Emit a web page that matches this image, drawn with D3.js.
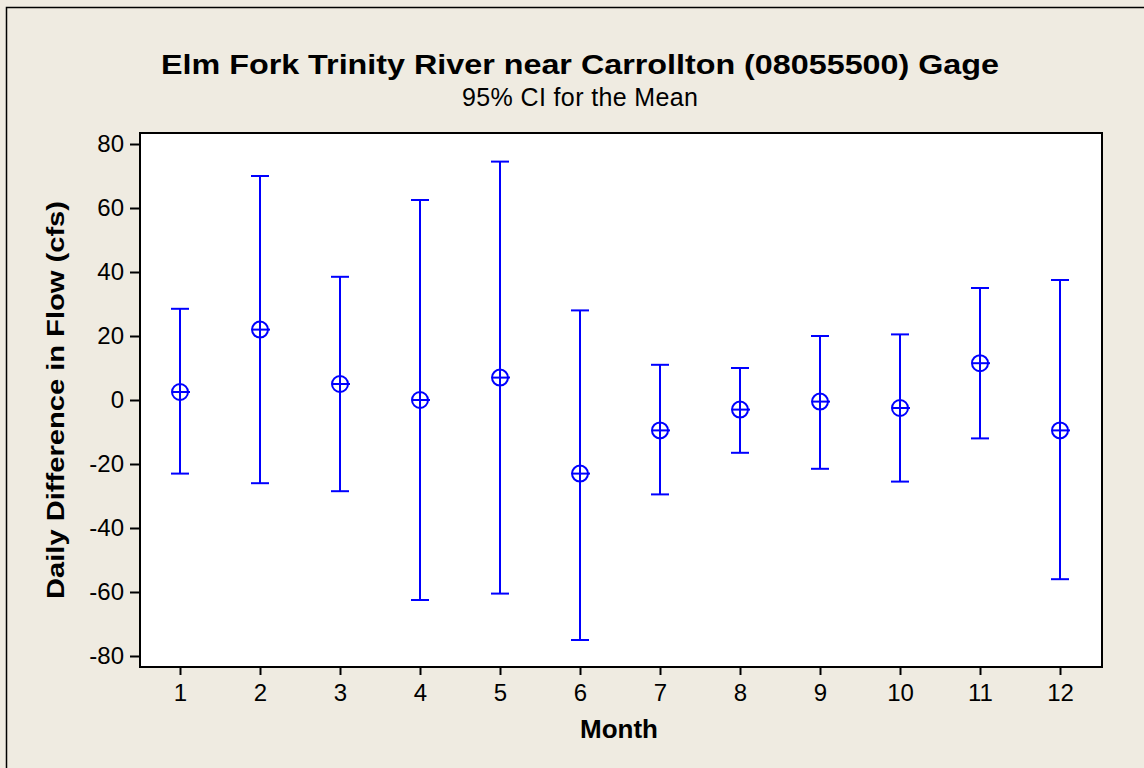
<!DOCTYPE html>
<html>
<head>
<meta charset="utf-8">
<script src="https://cdn.jsdelivr.net/npm/d3@7"></script>
<style>
  body { margin: 0; background: #efebe1; }
  svg { display: block; font-family: "Liberation Sans", Arial, sans-serif; }
</style>
</head>
<body>
<svg id="chart" width="1144" height="768"></svg>
<script>
// months and the 95% CI values
var months = [1, 2, 3, 4, 5, 6, 7, 8, 9, 10, 11, 12];
var means = [2.5, 22, 5, 0, 7, -23, -9.5, -3, -0.5, -2.5, 11.5, -9.5];
var upper = [28.5, 70, 38.5, 62.5, 74.5, 28, 11, 10, 20, 20.5, 35, 37.5];
var lower = [-23, -26, -28.5, -62.5, -60.5, -75, -29.5, -16.5, -21.5, -25.5, -12, -56];
var yTicks = [-80, -60, -40, -20, 0, 20, 40, 60, 80];

var margin = {top: 133, right: 42, bottom: 101, left: 140},
    width = 1144 - margin.left - margin.right,
    height = 768 - margin.top - margin.bottom;

var svg = d3.select("#chart");

// outer frame
svg.append("rect")
    .attr("x", 6.5).attr("y", 7.5)
    .attr("width", 1144).attr("height", 768)
    .attr("fill", "#efebe1")
    .attr("stroke", "#000").attr("stroke-width", 1.5);

// titles
svg.append("text")
    .attr("x", 580).attr("y", 74)
    .attr("text-anchor", "middle")
    .attr("textLength", 838).attr("lengthAdjust", "spacingAndGlyphs")
    .style("font-size", "27px").style("font-weight", "bold")
    .text("Elm Fork Trinity River near Carrollton (08055500) Gage");
svg.append("text")
    .attr("x", 580).attr("y", 106)
    .attr("text-anchor", "middle")
    .attr("textLength", 236)
    .style("font-size", "25px")
    .text("95% CI for the Mean");

var g = svg.append("g")
    .attr("transform", "translate(" + margin.left + "," + margin.top + ")");

g.append("rect")
    .attr("width", width).attr("height", height)
    .attr("fill", "#fff");

// scales
var x = d3.scaleLinear().domain([0.5, 12.525]).range([0, width]);
var y = d3.scaleLinear().domain([-83.44, 83.44]).range([height, 0]);

// axes
var xAxis = g.append("g")
    .attr("transform", "translate(0," + height + ")")
    .call(d3.axisBottom(x).tickValues(months).tickSize(8).tickPadding(9).tickFormat(function(d) { return String(d); }));
var yAxis = g.append("g")
    .call(d3.axisLeft(y).tickValues(yTicks).tickSize(10).tickPadding(6).tickFormat(function(d) { return String(d); }));

[xAxis, yAxis].forEach(function(a) {
  a.select(".domain").remove();
  a.selectAll("line").attr("stroke", "#000").attr("stroke-width", 2);
  a.selectAll("text").style("font-size", "24px").style("font-family", "Liberation Sans, Arial, sans-serif").attr("fill", "#000");
});

// plot frame
g.append("rect")
    .attr("width", width).attr("height", height)
    .attr("fill", "none")
    .attr("stroke", "#000").attr("stroke-width", 2);

// error bars
var data = months.map(function(m, i) {
  return {month: m, mean: means[i], hi: upper[i], lo: lower[i]};
});

var bars = g.selectAll(".ci")
    .data(data)
  .enter().append("g")
    .attr("class", "ci")
    .attr("stroke", "#0000ff")
    .attr("stroke-width", 2)
    .attr("fill", "none");

bars.append("line")
    .attr("x1", function(d) { return x(d.month); })
    .attr("x2", function(d) { return x(d.month); })
    .attr("y1", function(d) { return y(d.hi); })
    .attr("y2", function(d) { return y(d.lo); });
bars.append("line")
    .attr("x1", function(d) { return x(d.month) - 9; })
    .attr("x2", function(d) { return x(d.month) + 9; })
    .attr("y1", function(d) { return y(d.hi); })
    .attr("y2", function(d) { return y(d.hi); });
bars.append("line")
    .attr("x1", function(d) { return x(d.month) - 9; })
    .attr("x2", function(d) { return x(d.month) + 9; })
    .attr("y1", function(d) { return y(d.lo); })
    .attr("y2", function(d) { return y(d.lo); });

// mean symbol: circle with cross
bars.append("circle")
    .attr("cx", function(d) { return x(d.month); })
    .attr("cy", function(d) { return y(d.mean); })
    .attr("r", 8);
bars.append("line")
    .attr("x1", function(d) { return x(d.month) - 8; })
    .attr("x2", function(d) { return x(d.month) + 10; })
    .attr("y1", function(d) { return y(d.mean); })
    .attr("y2", function(d) { return y(d.mean); });

// axis labels
svg.append("text")
    .attr("x", 619).attr("y", 738)
    .attr("text-anchor", "middle")
    .style("font-size", "26px").style("font-weight", "bold")
    .text("Month");
svg.append("text")
    .attr("transform", "translate(64," + (margin.top + y(0)) + ") rotate(-90)")
    .attr("text-anchor", "middle")
    .attr("textLength", 398).attr("lengthAdjust", "spacingAndGlyphs")
    .style("font-size", "23px").style("font-weight", "bold")
    .text("Daily Difference in Flow (cfs)");
</script>
</body>
</html>
